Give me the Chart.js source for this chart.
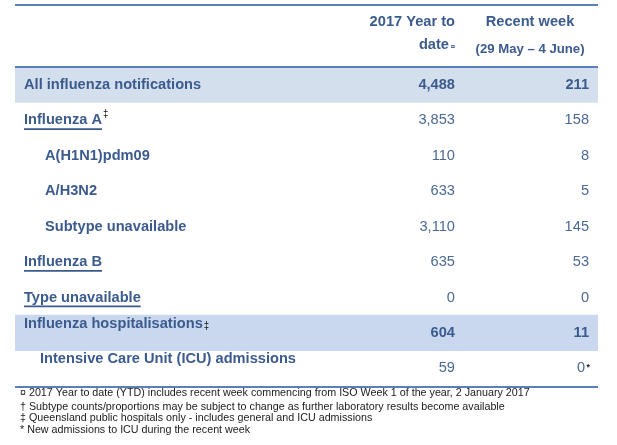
<!DOCTYPE html>
<html>
<head>
<meta charset="utf-8">
<script src="https://cdn.jsdelivr.net/npm/chart.js@4"></script>
<style>
  body{margin:0;background:#fff;}
  #wrap{width:617px;height:445px;position:relative;}
</style>
</head>
<body>
<div id="wrap"><canvas id="tabla"></canvas></div>
<script>
// ================= DATOS =================
const rowLabels = [
  "All influenza notifications",
  "Influenza A",
  "A(H1N1)pdm09",
  "A/H3N2",
  "Subtype unavailable",
  "Influenza B",
  "Type unavailable",
  "Influenza hospitalisations",
  "Intensive Care Unit (ICU) admissions"
];
const rowKind = ["total","type","sub","sub","sub","type","type","hosp","icu"];
const labelMarks = ["","‡","","","","","","‡",""];
const ytdValues = ["4,488","3,853","110","633","3,110","635","0","604","59"];
const weekValues = ["211","158","8","5","145","53","0","11","0"];
const weekMarks = ["","","","","","","","","*"];
const headerYtd = ["2017 Year to","date","¤"];
const headerWeek = ["Recent week","(29 May – 4 June)"];
const footnotes = [
  "¤ 2017 Year to date (YTD) includes recent week commencing from ISO Week 1 of the year, 2 January 2017",
  "† Subtype counts/proportions may be subject to change as further laboratory results become available",
  "‡ Queensland public hospitals only - includes general and ICU admissions",
  "* New admissions to ICU during the recent week"
];
// filas resaltadas (banda azul claro)
const bands = rowKind.map(k => (k==="total" || k==="hosp") ? [0,1] : null);

// ================= ESTILO =================
const NAVY = "#3b5b8e";
const NAVY_LIGHT = "#4b6995";
const LINE = "#5b80b8";
const BAND_TOTAL = "#d4dfee";
const BAND_HOSP = "#c9d8ee";
const FONT = "'Liberation Sans', Arial, sans-serif";
const SX = 0.975; // texto apenas estrecho como en el original

function txt(ctx, s, x, y, size, weight, color, align){
  ctx.save();
  ctx.font = `${weight} ${size}px ${FONT}`;
  ctx.fillStyle = color;
  ctx.textBaseline = "middle";
  ctx.textAlign = align || "left";
  ctx.translate(x, y);
  ctx.scale(SX, 1);
  ctx.fillText(s, 0, 0);
  const w = ctx.measureText(s).width * SX;
  ctx.restore();
  return w;
}

function hline(ctx, x1, x2, y, w, color){
  ctx.save();
  ctx.strokeStyle = color;
  ctx.lineWidth = w;
  ctx.beginPath();
  ctx.moveTo(x1, y);
  ctx.lineTo(x2, y);
  ctx.stroke();
  ctx.restore();
}

// ================= PLUGIN TABLA =================
const tablaPlugin = {
  id: "tabla",
  afterDatasetsDraw(chart){
    const ctx = chart.ctx;
    const xs = chart.scales.x, ys = chart.scales.y;
    const area = chart.chartArea;
    const colYtd = xs.getPixelForValue(0.7547);
    const colWeek = xs.getPixelForValue(0.9846);
    const colWeekMid = xs.getPixelForValue(0.8834);

    // lineas
    hline(ctx, area.left, area.right, 5, 2.2, LINE);
    hline(ctx, area.left, area.right, area.top, 2.2, LINE);
    hline(ctx, area.left, area.right, area.bottom + 1, 2.2, LINE);

    // cabecera
    txt(ctx, headerYtd[0], colYtd, 22, 15, "bold", NAVY, "right");
    txt(ctx, headerYtd[1], colYtd - 6, 45, 15, "bold", NAVY, "right");
    txt(ctx, headerYtd[2], colYtd, 47, 8, "bold", NAVY, "right");
    txt(ctx, headerWeek[0], colWeekMid, 22, 15, "bold", NAVY, "center");
    txt(ctx, headerWeek[1], colWeekMid, 49, 13.5, "bold", NAVY, "center");

    // filas
    rowLabels.forEach((lab, i) => {
      const y = ys.getPixelForValue(i);
      const k = rowKind[i];
      let lx = 24, ly = y;
      if(k==="sub") lx = 45;
      if(k==="hosp"){ ly = y - 9; }
      if(k==="icu"){ lx = 40; ly = y - 9; }
      const w = txt(ctx, lab, lx, ly, 15, "bold", NAVY, "left");
      if(k==="type") hline(ctx, lx, lx + w, ly + 9, 1.7, NAVY);
      if(labelMarks[i]){
        if(k==="hosp") txt(ctx, labelMarks[i], lx + w + 1, ly + 2, 10, "normal", "#111", "left");
        else txt(ctx, labelMarks[i], lx + w + 1, ly - 6, 10, "normal", "#111", "left");
      }
      const strong = (k==="total" || k==="hosp");
      const wt = strong ? "bold" : "normal";
      const col = strong ? NAVY : NAVY_LIGHT;
      txt(ctx, ytdValues[i], colYtd, y, 15, wt, col, "right");
      if(weekMarks[i]){
        txt(ctx, weekMarks[i], colWeek + 1, y - 1, 9, "bold", "#111", "right");
        txt(ctx, weekValues[i], colWeek - 4, y, 15, wt, col, "right");
      } else {
        txt(ctx, weekValues[i], colWeek, y, 15, wt, col, "right");
      }
    });

    // notas al pie
    const fy = [393, 407, 418, 430];
    footnotes.forEach((f, i) => txt(ctx, f, 20, fy[i], 11, "normal", "#1a1a1a", "left"));
  }
};

// ================= CHART =================
new Chart(document.getElementById("tabla"), {
  type: "bar",
  data: {
    labels: rowLabels,
    datasets: [{
      data: bands,
      backgroundColor: rowKind.map(k => k==="hosp" ? BAND_HOSP : BAND_TOTAL),
      borderWidth: 0,
      barPercentage: 1,
      categoryPercentage: 1
    }]
  },
  options: {
    indexAxis: "y",
    responsive: true,
    maintainAspectRatio: false,
    animation: false,
    layout: { padding: { left: 15, right: 19, top: 67, bottom: 59 } },
    plugins: { legend: { display: false }, tooltip: { enabled: false } },
    scales: {
      x: { type: "linear", min: 0, max: 1, display: false },
      y: { display: false }
    }
  },
  plugins: [tablaPlugin]
});
</script>
</body>
</html>
